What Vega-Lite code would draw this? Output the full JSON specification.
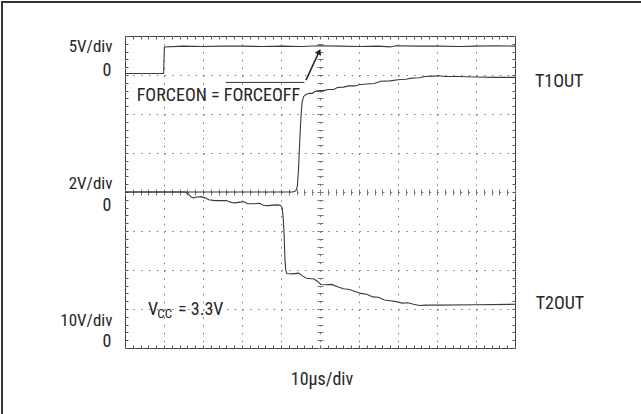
{
  "$schema": "https://vega.github.io/schema/vega-lite/v6.json",
  "width": 390,
  "height": 312,
  "autosize": {"type": "none"},
  "padding": {"left": 125, "top": 36, "right": 126, "bottom": 66},
  "background": "white",
  "config": {
    "view": {"stroke": "#3c3c3c", "strokeWidth": 1},
    "text": {"font": "Roboto Condensed, Liberation Sans Narrow, Liberation Sans, sans-serif", "fontSize": 18, "fill": "#262626", "baseline": "middle"}
  },
  "datasets": {
    "forceon": [
      {"t": 0, "v": 7.04}, {"t": 0.5, "v": 7.04}, {"t": 0.99, "v": 7.04}, {"t": 1.01, "v": 7.72},
      {"t": 1.5, "v": 7.74}, {"t": 2.0, "v": 7.73}, {"t": 2.5, "v": 7.74}, {"t": 3.0, "v": 7.74},
      {"t": 3.5, "v": 7.73}, {"t": 4.0, "v": 7.74}, {"t": 4.5, "v": 7.73}, {"t": 5.0, "v": 7.75},
      {"t": 5.5, "v": 7.74}, {"t": 6.0, "v": 7.73}, {"t": 6.5, "v": 7.74}, {"t": 6.8, "v": 7.72},
      {"t": 6.95, "v": 7.75}, {"t": 7.5, "v": 7.74}, {"t": 8.0, "v": 7.74}, {"t": 8.6, "v": 7.73},
      {"t": 9.0, "v": 7.74}, {"t": 9.5, "v": 7.75}, {"t": 10, "v": 7.74}
    ],
    "t1out": [
      {"t": 0, "v": 4.0}, {"t": 1.0, "v": 4.0}, {"t": 2.0, "v": 4.0}, {"t": 3.0, "v": 4.0},
      {"t": 4.0, "v": 4.0}, {"t": 4.3, "v": 4.0}, {"t": 4.38, "v": 4.03}, {"t": 4.42, "v": 4.15},
      {"t": 4.45, "v": 4.6}, {"t": 4.48, "v": 5.3}, {"t": 4.51, "v": 5.9}, {"t": 4.54, "v": 6.3},
      {"t": 4.58, "v": 6.45}, {"t": 4.64, "v": 6.5}, {"t": 4.72, "v": 6.53}, {"t": 4.8, "v": 6.53},
      {"t": 4.88, "v": 6.58}, {"t": 5.0, "v": 6.6}, {"t": 5.1, "v": 6.6}, {"t": 5.2, "v": 6.63},
      {"t": 5.35, "v": 6.63}, {"t": 5.45, "v": 6.68}, {"t": 5.6, "v": 6.69}, {"t": 5.75, "v": 6.72},
      {"t": 5.9, "v": 6.72}, {"t": 6.0, "v": 6.75}, {"t": 6.2, "v": 6.77}, {"t": 6.4, "v": 6.78},
      {"t": 6.55, "v": 6.84}, {"t": 6.8, "v": 6.85}, {"t": 7.0, "v": 6.88}, {"t": 7.2, "v": 6.89},
      {"t": 7.35, "v": 6.92}, {"t": 7.55, "v": 6.93}, {"t": 7.7, "v": 6.96}, {"t": 7.9, "v": 6.97},
      {"t": 8.05, "v": 6.98}, {"t": 8.2, "v": 6.96}, {"t": 8.5, "v": 6.96}, {"t": 9.0, "v": 6.95},
      {"t": 9.5, "v": 6.94}, {"t": 10.0, "v": 6.94}
    ],
    "t2out": [
      {"t": 0, "v": 4.0}, {"t": 1.0, "v": 4.0}, {"t": 1.54, "v": 4.0}, {"t": 1.62, "v": 3.95},
      {"t": 1.7, "v": 3.87}, {"t": 1.75, "v": 3.85}, {"t": 1.85, "v": 3.87}, {"t": 1.95, "v": 3.88},
      {"t": 2.05, "v": 3.85}, {"t": 2.15, "v": 3.8}, {"t": 2.3, "v": 3.78}, {"t": 2.6, "v": 3.78},
      {"t": 2.7, "v": 3.74}, {"t": 2.8, "v": 3.72}, {"t": 2.95, "v": 3.74}, {"t": 3.05, "v": 3.75},
      {"t": 3.15, "v": 3.7}, {"t": 3.3, "v": 3.7}, {"t": 3.45, "v": 3.71}, {"t": 3.55, "v": 3.66},
      {"t": 3.65, "v": 3.65}, {"t": 3.9, "v": 3.67}, {"t": 3.98, "v": 3.66}, {"t": 4.03, "v": 3.6},
      {"t": 4.06, "v": 3.3}, {"t": 4.08, "v": 2.9}, {"t": 4.1, "v": 2.3}, {"t": 4.12, "v": 2.0},
      {"t": 4.15, "v": 1.91}, {"t": 4.3, "v": 1.9}, {"t": 4.45, "v": 1.92}, {"t": 4.55, "v": 1.85},
      {"t": 4.65, "v": 1.79}, {"t": 4.85, "v": 1.77}, {"t": 4.95, "v": 1.7}, {"t": 5.02, "v": 1.63},
      {"t": 5.15, "v": 1.62}, {"t": 5.3, "v": 1.63}, {"t": 5.45, "v": 1.57}, {"t": 5.6, "v": 1.52},
      {"t": 5.75, "v": 1.5}, {"t": 5.9, "v": 1.45}, {"t": 6.05, "v": 1.4}, {"t": 6.2, "v": 1.38},
      {"t": 6.35, "v": 1.31}, {"t": 6.5, "v": 1.3}, {"t": 6.65, "v": 1.23}, {"t": 6.8, "v": 1.21},
      {"t": 6.95, "v": 1.19}, {"t": 7.1, "v": 1.15}, {"t": 7.25, "v": 1.16}, {"t": 7.4, "v": 1.12},
      {"t": 7.55, "v": 1.09}, {"t": 7.7, "v": 1.1}, {"t": 8.0, "v": 1.1}, {"t": 9.0, "v": 1.11},
      {"t": 10.0, "v": 1.12}
    ]
  },
  "data": {"values": [{}]},
  "layer": [
    {
      "data": {"name": "forceon"},
      "mark": {"type": "line", "stroke": "#3a3a3a", "strokeWidth": 1.1},
      "encoding": {
        "x": {"field": "t", "type": "quantitative", "scale": {"domain": [0, 10], "nice": false, "zero": false},
          "axis": {"orient": "bottom", "values": [0,1,2,3,4,5,6,7,8,9,10], "grid": true, "gridDash": [1.5, 6.3], "gridColor": "#7a7a7a", "gridWidth": 1, "ticks": false, "labels": false, "domain": false, "title": null}},
        "y": {"field": "v", "type": "quantitative", "scale": {"domain": [0, 8], "nice": false, "zero": false},
          "axis": {"orient": "left", "values": [0,1,2,3,4,5,6,7,8], "grid": true, "gridDash": [1.5, 6.3], "gridColor": "#7a7a7a", "gridWidth": 1, "ticks": false, "labels": false, "domain": false, "title": null}}
      }
    },
    {
      "data": {"name": "t1out"},
      "mark": {"type": "line", "stroke": "#3a3a3a", "strokeWidth": 1.1},
      "encoding": {
        "x": {"field": "t", "type": "quantitative", "scale": {"domain": [0, 10], "nice": false, "zero": false},
          "axis": {"orient": "bottom", "values": [0,0.2,0.4,0.6,0.8,1,1.2,1.4,1.6,1.8,2,2.2,2.4,2.6,2.8,3,3.2,3.4,3.6,3.8,4,4.2,4.4,4.6,4.8,5,5.2,5.4,5.6,5.8,6,6.2,6.4,6.6,6.8,7,7.2,7.4,7.6,7.8,8,8.2,8.4,8.6,8.8,9,9.2,9.4,9.6,9.8,10], "tickSize": -3, "tickColor": "#555555", "tickWidth": 1, "labels": false, "domain": false, "grid": false, "title": null}},
        "y": {"field": "v", "type": "quantitative", "scale": {"domain": [0, 8], "nice": false, "zero": false},
          "axis": {"orient": "left", "values": [0,0.2,0.4,0.6,0.8,1,1.2,1.4,1.6,1.8,2,2.2,2.4,2.6,2.8,3,3.2,3.4,3.6,3.8,4,4.2,4.4,4.6,4.8,5,5.2,5.4,5.6,5.8,6,6.2,6.4,6.6,6.8,7,7.2,7.4,7.6,7.8,8], "tickSize": -3, "tickColor": "#555555", "tickWidth": 1, "labels": false, "domain": false, "grid": false, "title": null}}
      }
    },
    {
      "data": {"name": "t2out"},
      "mark": {"type": "line", "stroke": "#3a3a3a", "strokeWidth": 1.1},
      "encoding": {
        "x": {"field": "t", "type": "quantitative", "scale": {"domain": [0, 10], "nice": false, "zero": false},
          "axis": {"orient": "top", "values": [0,0.2,0.4,0.6,0.8,1,1.2,1.4,1.6,1.8,2,2.2,2.4,2.6,2.8,3,3.2,3.4,3.6,3.8,4,4.2,4.4,4.6,4.8,5,5.2,5.4,5.6,5.8,6,6.2,6.4,6.6,6.8,7,7.2,7.4,7.6,7.8,8,8.2,8.4,8.6,8.8,9,9.2,9.4,9.6,9.8,10], "tickSize": -3, "tickColor": "#555555", "tickWidth": 1, "labels": false, "domain": false, "grid": false, "title": null}},
        "y": {"field": "v", "type": "quantitative", "scale": {"domain": [0, 8], "nice": false, "zero": false},
          "axis": {"orient": "right", "values": [0,0.2,0.4,0.6,0.8,1,1.2,1.4,1.6,1.8,2,2.2,2.4,2.6,2.8,3,3.2,3.4,3.6,3.8,4,4.2,4.4,4.6,4.8,5,5.2,5.4,5.6,5.8,6,6.2,6.4,6.6,6.8,7,7.2,7.4,7.6,7.8,8], "tickSize": -3, "tickColor": "#555555", "tickWidth": 1, "labels": false, "domain": false, "grid": false, "title": null}}
      }
    },
    {
      "mark": {"type": "rule", "stroke": "#333333", "strokeWidth": 1},
      "encoding": {
        "x": {"datum": 2.58, "type": "quantitative", "scale": {"domain": [0, 10], "nice": false, "zero": false},
          "axis": {"orient": "bottom", "offset": -159, "values": [0,0.2,0.4,0.6,0.8,1,1.2,1.4,1.6,1.8,2,2.2,2.4,2.6,2.8,3,3.2,3.4,3.6,3.8,4,4.2,4.4,4.6,4.8,5,5.2,5.4,5.6,5.8,6,6.2,6.4,6.6,6.8,7,7.2,7.4,7.6,7.8,8,8.2,8.4,8.6,8.8,9,9.2,9.4,9.6,9.8,10], "tickSize": 6, "tickColor": "#777777", "tickWidth": 1, "labels": false, "domain": false, "grid": false, "title": null}},
        "x2": {"datum": 4.6},
        "y": {"datum": 6.81, "type": "quantitative", "scale": {"domain": [0, 8], "nice": false, "zero": false},
          "axis": {"orient": "left", "offset": -198, "values": [0,0.2,0.4,0.6,0.8,1,1.2,1.4,1.6,1.8,2,2.2,2.4,2.6,2.8,3,3.2,3.4,3.6,3.8,4,4.2,4.4,4.6,4.8,5,5.2,5.4,5.6,5.8,6,6.2,6.4,6.6,6.8,7,7.2,7.4,7.6,7.8,8], "tickSize": 6, "tickColor": "#777777", "tickWidth": 1, "labels": false, "domain": false, "grid": false, "title": null}}
      }
    },
    {
      "mark": {"type": "rule", "stroke": "#333333", "strokeWidth": 2},
      "encoding": {
        "x": {"datum": -3.154, "type": "quantitative", "scale": {"domain": [0, 10], "nice": false, "zero": false}, "axis": null},
        "y": {"datum": 8.9, "type": "quantitative", "scale": {"domain": [0, 8], "nice": false, "zero": false}, "axis": null},
        "y2": {"datum": -1.7}
      }
    },
    {
      "mark": {"type": "rule", "stroke": "#333333", "strokeWidth": 2},
      "encoding": {
        "x": {"datum": -3.18, "type": "quantitative", "scale": {"domain": [0, 10], "nice": false, "zero": false}, "axis": null},
        "x2": {"datum": 13.3},
        "y": {"datum": 8.872, "type": "quantitative", "scale": {"domain": [0, 8], "nice": false, "zero": false}, "axis": null}
      }
    },
    {
      "mark": {"type": "rule", "stroke": "#222222", "strokeWidth": 1.5},
      "encoding": {
        "x": {"datum": 4.64, "type": "quantitative", "scale": {"domain": [0, 10], "nice": false, "zero": false}, "axis": null},
        "x2": {"datum": 4.97},
        "y": {"datum": 6.87, "type": "quantitative", "scale": {"domain": [0, 8], "nice": false, "zero": false}, "axis": null},
        "y2": {"datum": 7.58}
      }
    },
    {
      "mark": {"type": "point", "shape": "triangle-up", "filled": true, "fill": "#222222", "opacity": 1, "size": 45, "angle": 25},
      "encoding": {
        "x": {"datum": 4.98, "type": "quantitative", "scale": {"domain": [0, 10], "nice": false, "zero": false}, "axis": null},
        "y": {"datum": 7.6, "type": "quantitative", "scale": {"domain": [0, 8], "nice": false, "zero": false}, "axis": null}
      }
    },
    {"mark": {"type": "text", "text": "5V/div", "align": "right", "fontSize": 17},
     "encoding": {"x": {"datum": -0.32, "type": "quantitative", "scale": {"domain": [0, 10], "nice": false, "zero": false}, "axis": null},
                  "y": {"datum": 7.71, "type": "quantitative", "scale": {"domain": [0, 8], "nice": false, "zero": false}, "axis": null}}},
    {"mark": {"type": "text", "text": "0", "align": "right"},
     "encoding": {"x": {"datum": -0.35, "type": "quantitative", "scale": {"domain": [0, 10], "nice": false, "zero": false}, "axis": null},
                  "y": {"datum": 7.1, "type": "quantitative", "scale": {"domain": [0, 8], "nice": false, "zero": false}, "axis": null}}},
    {"mark": {"type": "text", "text": "2V/div", "align": "right", "fontSize": 17},
     "encoding": {"x": {"datum": -0.32, "type": "quantitative", "scale": {"domain": [0, 10], "nice": false, "zero": false}, "axis": null},
                  "y": {"datum": 4.21, "type": "quantitative", "scale": {"domain": [0, 8], "nice": false, "zero": false}, "axis": null}}},
    {"mark": {"type": "text", "text": "0", "align": "right"},
     "encoding": {"x": {"datum": -0.35, "type": "quantitative", "scale": {"domain": [0, 10], "nice": false, "zero": false}, "axis": null},
                  "y": {"datum": 3.64, "type": "quantitative", "scale": {"domain": [0, 8], "nice": false, "zero": false}, "axis": null}}},
    {"mark": {"type": "text", "text": "10V/div", "align": "right", "fontSize": 17},
     "encoding": {"x": {"datum": -0.32, "type": "quantitative", "scale": {"domain": [0, 10], "nice": false, "zero": false}, "axis": null},
                  "y": {"datum": 0.68, "type": "quantitative", "scale": {"domain": [0, 8], "nice": false, "zero": false}, "axis": null}}},
    {"mark": {"type": "text", "text": "0", "align": "right"},
     "encoding": {"x": {"datum": -0.35, "type": "quantitative", "scale": {"domain": [0, 10], "nice": false, "zero": false}, "axis": null},
                  "y": {"datum": 0.15, "type": "quantitative", "scale": {"domain": [0, 8], "nice": false, "zero": false}, "axis": null}}},
    {"mark": {"type": "text", "text": "T1OUT", "align": "left"},
     "encoding": {"x": {"datum": 10.51, "type": "quantitative", "scale": {"domain": [0, 10], "nice": false, "zero": false}, "axis": null},
                  "y": {"datum": 6.83, "type": "quantitative", "scale": {"domain": [0, 8], "nice": false, "zero": false}, "axis": null}}},
    {"mark": {"type": "text", "text": "T2OUT", "align": "left"},
     "encoding": {"x": {"datum": 10.53, "type": "quantitative", "scale": {"domain": [0, 10], "nice": false, "zero": false}, "axis": null},
                  "y": {"datum": 1.14, "type": "quantitative", "scale": {"domain": [0, 8], "nice": false, "zero": false}, "axis": null}}},
    {"mark": {"type": "text", "text": "10µs/div", "align": "center"},
     "encoding": {"x": {"datum": 5.05, "type": "quantitative", "scale": {"domain": [0, 10], "nice": false, "zero": false}, "axis": null},
                  "y": {"datum": -0.82, "type": "quantitative", "scale": {"domain": [0, 8], "nice": false, "zero": false}, "axis": null}}},
    {"mark": {"type": "text", "text": "FORCEON = FORCEOFF", "align": "left"},
     "encoding": {"x": {"datum": 0.3, "type": "quantitative", "scale": {"domain": [0, 10], "nice": false, "zero": false}, "axis": null},
                  "y": {"datum": 6.45, "type": "quantitative", "scale": {"domain": [0, 8], "nice": false, "zero": false}, "axis": null}}},
    {"mark": {"type": "text", "text": "V", "align": "left"},
     "encoding": {"x": {"datum": 0.59, "type": "quantitative", "scale": {"domain": [0, 10], "nice": false, "zero": false}, "axis": null},
                  "y": {"datum": 0.97, "type": "quantitative", "scale": {"domain": [0, 8], "nice": false, "zero": false}, "axis": null}}},
    {"mark": {"type": "text", "text": "CC", "align": "left", "fontSize": 13},
     "encoding": {"x": {"datum": 0.83, "type": "quantitative", "scale": {"domain": [0, 10], "nice": false, "zero": false}, "axis": null},
                  "y": {"datum": 0.88, "type": "quantitative", "scale": {"domain": [0, 8], "nice": false, "zero": false}, "axis": null}}},
    {"mark": {"type": "text", "text": "= 3.3V", "align": "left"},
     "encoding": {"x": {"datum": 1.36, "type": "quantitative", "scale": {"domain": [0, 10], "nice": false, "zero": false}, "axis": null},
                  "y": {"datum": 0.97, "type": "quantitative", "scale": {"domain": [0, 8], "nice": false, "zero": false}, "axis": null}}}
  ],
  "resolve": {"axis": {"x": "independent", "y": "independent"}}
}
